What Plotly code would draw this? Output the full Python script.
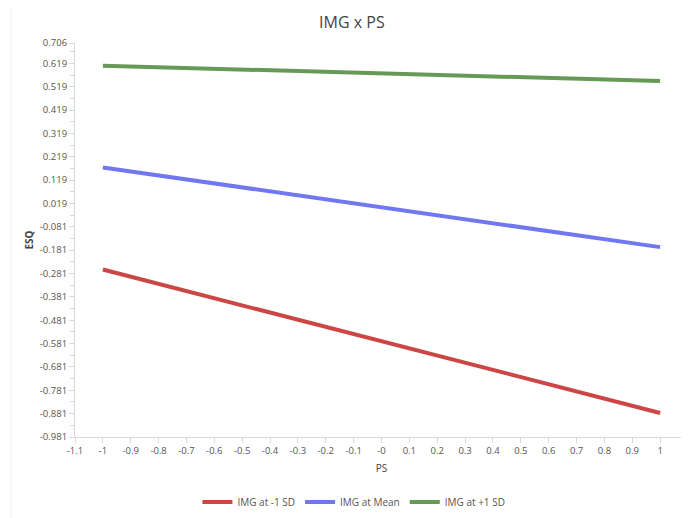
import plotly.graph_objects as go

ps = [-1, 1]
series_names = ["IMG at -1 SD", "IMG at Mean", "IMG at +1 SD"]
low_sd = [-0.264, -0.878]
mean_vals = [0.173, -0.168]
high_sd = [0.609, 0.543]
colors = ["#cc4646", "#6f78ee", "#659955"]

y_ticks = [0.706] + [round(0.619 - 0.1 * i, 3) for i in range(17)]
y_minor = [0.669] + [round(0.569 - 0.1 * i, 3) for i in range(16)]
x_ticks = [round(-1.1 + 0.1 * i, 1) for i in range(23)]
x_text = ["-0" if abs(v) < 1e-9 else f"{v:g}" for v in x_ticks]

fig = go.Figure()
for name, vals, c in zip(series_names, [low_sd, mean_vals, high_sd], colors):
    fig.add_trace(go.Scatter(x=ps, y=vals, mode="lines", name=name,
                             line=dict(color=c, width=4)))

axis_common = dict(showgrid=False, zeroline=False, showline=True,
                   linecolor="#d9d9d9", linewidth=1, ticks="outside",
                   ticklen=5, tickcolor="#d9d9d9", automargin=False,
                   ticklabeloverflow="allow",
                   tickfont=dict(size=9.5, color="#555555"))

fig.update_layout(
    width=681, height=510,
    margin=dict(l=67, r=1, t=35, b=81),
    paper_bgcolor="white", plot_bgcolor="white",
    font=dict(family="Open Sans, Noto Sans, sans-serif", color="#444444"),
    title=dict(text="IMG x PS", x=0.505, xanchor="center", y=0.972,
               yanchor="middle", font=dict(size=16, color="#444444")),
    xaxis=dict(range=[-1.1, 1.1], tickmode="array", tickvals=x_ticks,
               ticktext=x_text,
               title=dict(text="PS", font=dict(size=10, color="#444444"),
                          standoff=8),
               **axis_common),
    yaxis=dict(range=[-0.981, 0.706], tickmode="array", tickvals=y_ticks,
               ticktext=[f"{v:.3f}" for v in y_ticks],
               minor=dict(tickmode="array", tickvals=y_minor, ticks="outside",
                          ticklen=4, tickcolor="#d9d9d9"),
               title=dict(text="<b>ESQ</b>", font=dict(size=10, color="#444444"),
                          standoff=4),
               **axis_common),
    legend=dict(orientation="h", x=0.455, xanchor="center", y=-0.165,
                yanchor="middle", font=dict(size=10, color="#555555"),
                itemwidth=30, tracegroupgap=0),
    showlegend=True,
)
fig.add_shape(type="line", xref="paper", yref="paper",
              x0=-0.104, x1=-0.104, y0=-0.25, y1=1.1,
              line=dict(color="#f0f0f0", width=1))

fig.write_html("out.html")
